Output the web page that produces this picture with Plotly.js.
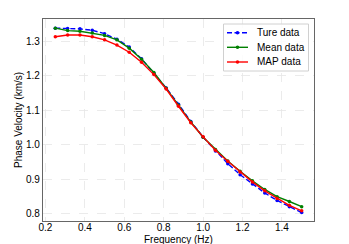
<!DOCTYPE html>
<html>
<head>
<meta charset="utf-8">
<script src="https://cdn.plot.ly/plotly-3.0.1.min.js"></script>
<style>html,body{margin:0;padding:0;background:#fff;}#chart{width:349px;height:244px;}</style>
</head>
<body>
<div id="chart"></div>
<script>
var frequency = [0.25,0.3125,0.375,0.4375,0.5,0.5625,0.625,0.6875,0.75,0.8125,0.875,0.9375,1.0,1.0625,1.125,1.1875,1.25,1.3125,1.375,1.4375,1.5];
var trueData = [1.339,1.338,1.337,1.333,1.323,1.307,1.284,1.250,1.208,1.165,1.118,1.068,1.022,0.982,0.945,0.913,0.886,0.860,0.838,0.820,0.803];
var meanData = [1.339,1.332,1.330,1.325,1.318,1.305,1.281,1.249,1.210,1.164,1.115,1.066,1.022,0.986,0.953,0.923,0.895,0.870,0.849,0.835,0.820];
var mapData  = [1.314,1.319,1.319,1.314,1.305,1.290,1.269,1.240,1.204,1.162,1.112,1.064,1.023,0.984,0.952,0.921,0.892,0.866,0.844,0.824,0.808];
var seriesNames = ["Ture data","Mean data","MAP data"];
var seriesColors = ["#0000ff","#008000","#ff0000"];
var seriesDash = ["5px,2.5px","solid","solid"];
var xTicks = [0.2,0.4,0.6,0.8,1.0,1.2,1.4];
var yTicks = [0.8,0.9,1.0,1.1,1.2,1.3];

var font = "Liberation Sans, Arial, sans-serif";
var W = 349, H = 244, M = {l: 43, r: 35, t: 19, b: 23};
var pw = W - M.l - M.r, ph = H - M.t - M.b;
function px(x) { return (x - M.l) / pw; }
function py(y) { return (H - M.b - y) / ph; }

var allData = [trueData, meanData, mapData];
var traces = allData.map(function (d, i) {
  return {x: frequency, y: d, name: seriesNames[i], mode: "lines+markers",
    line: {color: seriesColors[i], width: 1.4, dash: seriesDash[i]},
    marker: {color: seriesColors[i], size: 3.5, symbol: "circle"}};
});

// custom legend (matplotlib-like)
var shapes = [{type: "rect", xref: "paper", yref: "paper",
  x0: px(223.5), x1: px(308.5), y0: py(71), y1: py(24),
  line: {color: "#d0d0d0", width: 1}, fillcolor: "rgba(255,255,255,0.85)"}];
var annotations = [];
var rowY = [32.7, 47.3, 62];
seriesNames.forEach(function (n, i) {
  shapes.push({type: "line", xref: "paper", yref: "paper",
    x0: px(227), x1: px(248), y0: py(rowY[i]), y1: py(rowY[i]),
    line: {color: seriesColors[i], width: 1.4, dash: seriesDash[i]}});
  shapes.push({type: "circle", xref: "paper", yref: "paper", xsizemode: "pixel", ysizemode: "pixel",
    xanchor: px(237.5), yanchor: py(rowY[i]), x0: -1.8, x1: 1.8, y0: -1.8, y1: 1.8,
    fillcolor: seriesColors[i], line: {width: 0}});
  annotations.push({xref: "paper", yref: "paper", x: px(255), y: py(rowY[i]),
    xanchor: "left", yanchor: "middle", text: n, showarrow: false,
    font: {family: font, size: 10, color: "#000"}});
});
annotations.push({xref: "paper", yref: "paper", x: px(178), y: py(239.5),
  xanchor: "center", yanchor: "middle", text: "Frequency (Hz)", showarrow: false,
  font: {family: font, size: 10, color: "#000"}});
annotations.push({xref: "paper", yref: "paper", x: px(18), y: py(120),
  xanchor: "center", yanchor: "middle", textangle: -90, text: "Phase Velocity (km/s)", showarrow: false,
  font: {family: font, size: 10, color: "#000"}});

var axisCommon = {
  showline: true, mirror: true, linecolor: "#666", linewidth: 1.2,
  showgrid: true, gridcolor: "#e6e6e6", griddash: "dash", gridwidth: 0.8,
  zeroline: false, ticks: "", tickfont: {family: font, size: 10, color: "#000"}
};
var layout = {
  width: W, height: H, margin: M,
  paper_bgcolor: "#fff", plot_bgcolor: "#fff",
  font: {family: font, color: "#000"},
  showlegend: false,
  shapes: shapes, annotations: annotations,
  xaxis: Object.assign({}, axisCommon, {
    range: [0.1875, 1.5625], tickvals: xTicks, ticklabelstandoff: -3,
    ticktext: xTicks.map(function (v) { return v.toFixed(1); })
  }),
  yaxis: Object.assign({}, axisCommon, {
    range: [0.7783, 1.3657], tickvals: yTicks,
    ticktext: yTicks.map(function (v) { return v.toFixed(1); })
  })
};
Plotly.newPlot("chart", traces, layout, {displayModeBar: false, staticPlot: true});
</script>
</body>
</html>
